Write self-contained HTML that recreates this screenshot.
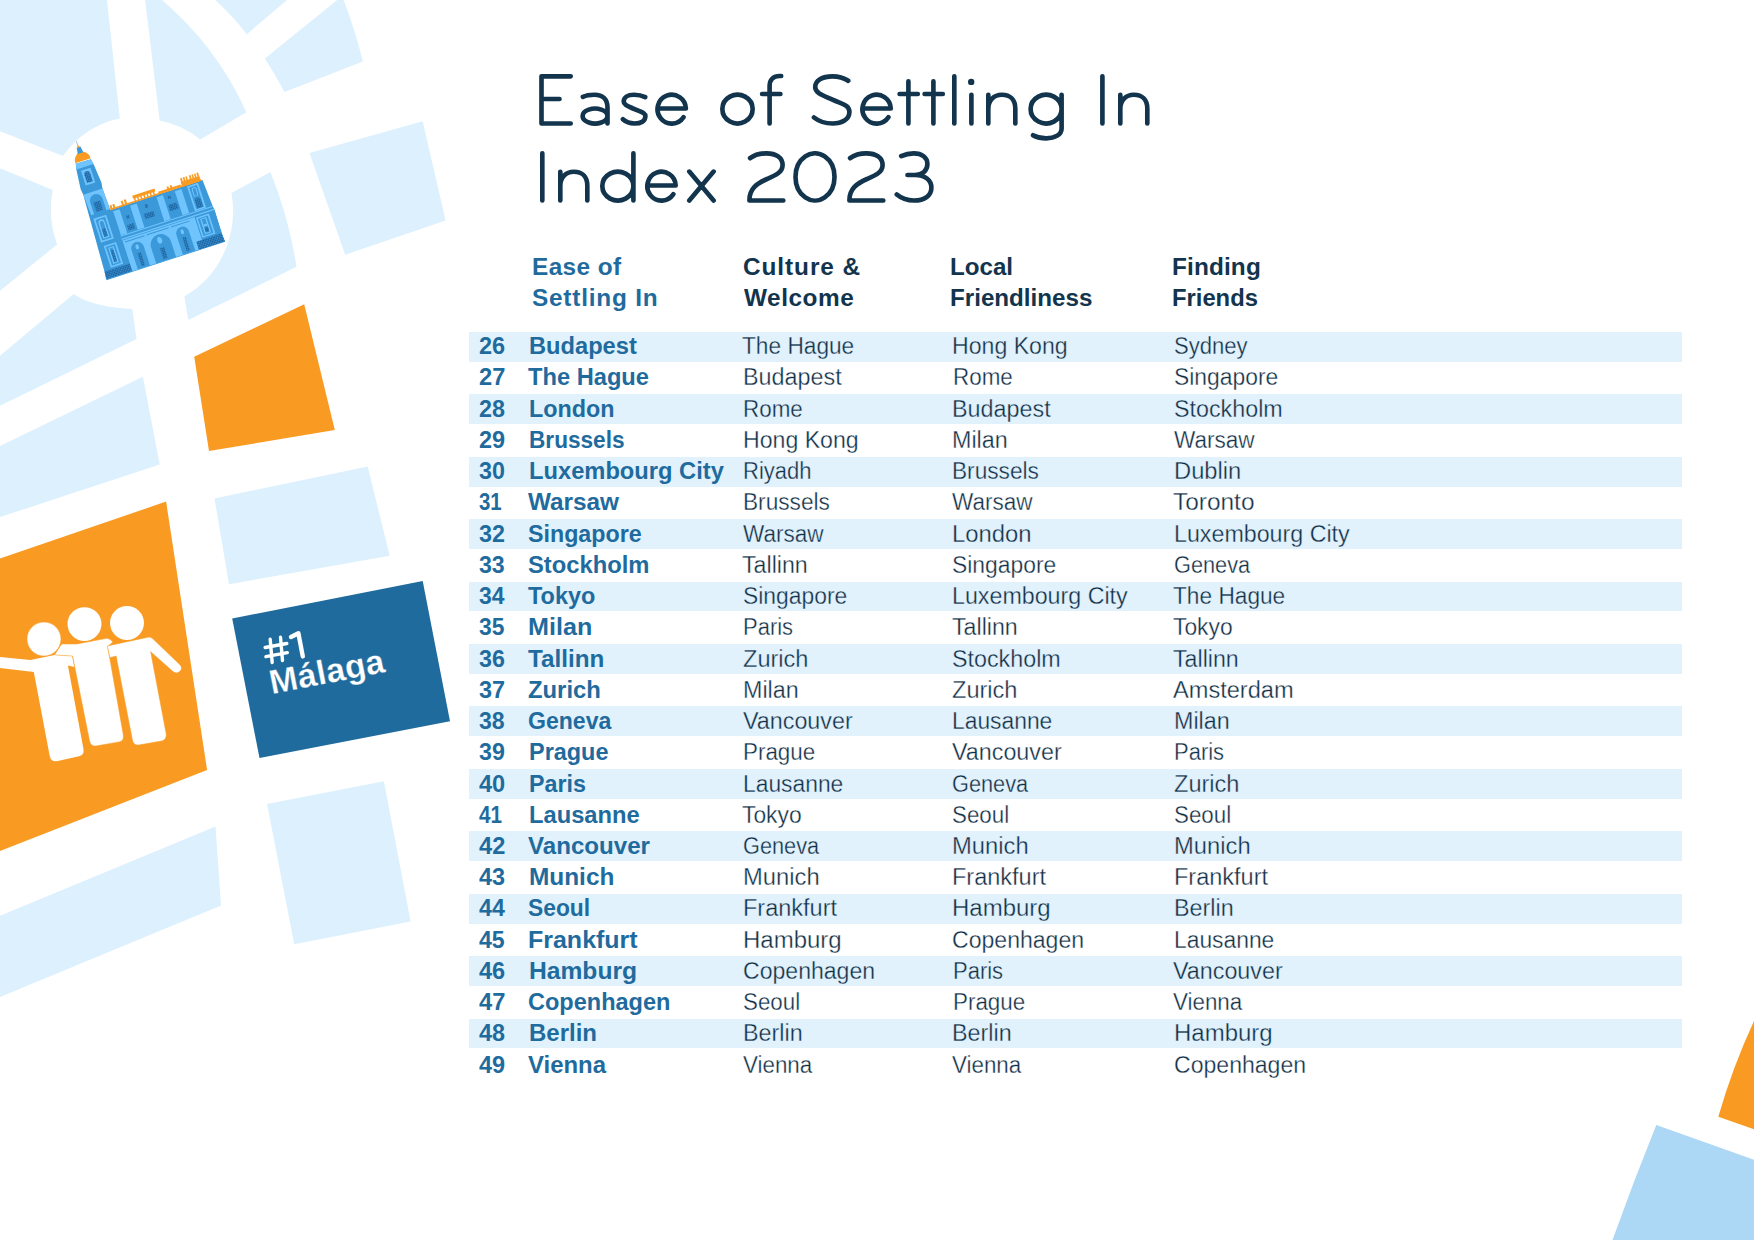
<!DOCTYPE html><html><head><meta charset="utf-8"><title>Ease of Settling In Index 2023</title><style>
*{margin:0;padding:0;box-sizing:border-box}
html,body{width:1754px;height:1240px;background:#fff;overflow:hidden}
body{position:relative;font-family:"Liberation Sans",sans-serif;color:#12344d}
#bg{position:absolute;left:0;top:0;width:1754px;height:1240px}
.row{position:absolute;left:469px;width:1213px;height:29.9px}
.row.s{background:#e1f2fd} .row.t{background:none}
.c{position:absolute;top:0;left:0;white-space:nowrap;font-size:23.5px;line-height:29.9px;transform-origin:0 50%}
.n,.a{font-weight:700;color:#1f6b9e}
.l{color:#0f2e46;-webkit-text-stroke:.33px #fff}
.s .l{-webkit-text-stroke-color:#e1f2fd}
.h{position:absolute;top:251.5px;font-size:23px;line-height:31px;font-weight:700;white-space:nowrap;color:#12344d}
.h1{color:#1f6b9e}
</style></head><body>
<svg id="bg" width="1754" height="1240" viewBox="0 0 1754 1240">
<path fill="#dcf0fd" d="M0,0 L107,0 L119.8,118.6 A91 96 0 0 0 63,156 L0,131.3 Z M145.1,0 L159.7,120.5 A91 96 0 0 1 200.2,139.5 L246.4,112.2 Q216.8,46.6 161.9,0 Z M215.2,0 L287.1,0 L246.8,34.2 Q232,15 215.2,0 Z M337.2,0 L343.7,0 Q355,30 362.9,61.4 L284.5,92.1 Q275,74 264.9,58.4 Z M422.7,121.3 L445.6,220.4 L345.2,254.8 L309.5,153.1 Z M231.4,193 L270.4,172.1 Q289,218 296.5,266.8 L188.2,320 L184.4,296.3 A91 96 0 0 0 231.4,193 Z M0,168.3 L52.7,190 A91 96 0 0 0 57.2,244.4 L0,290.7 Z M0,355.8 L73.7,294 Q92,307 132.3,309 L136.5,339 L0,405.8 Z M142.9,376.8 L159.7,464.5 L0,517.1 L0,446.1 Z M367.7,466.5 L389.7,555.8 L229,584.2 L214.5,498.4 Z M215.5,826.5 L221,905.5 L0,997 L0,915.8 Z M383.9,781.3 L410.6,921.6 L294.2,944.2 L267.1,803.9 Z"/>
<path fill="#f99b22" d="M304.2,304.2 L334.8,430 L209,451 L194.2,356.8 Z M0,558.4 L166.1,501.6 L207.1,770 L0,851 Z M1754,1021 Q1732.6,1067 1718.3,1116.8 L1754,1129.2 Z"/>
<path fill="#1f6b9d" d="M232.2,618.4 L422.7,581.1 L450,721.3 L259.5,758.1 Z"/>
<path fill="#acd7f5" d="M1656.3,1124.9 L1754,1159.7 L1754,1240 L1612.5,1240 Q1633,1182.5 1656.3,1124.9 Z"/>
<g transform="translate(0,590) scale(0.145138)" fill="#fff">
<circle cx="582" cy="235" r="117"/><circle cx="875" cy="227" r="117"/>
<path d="M0,462 L210,483 L375,447 L497,453 L512,530 L468,520 L575,1095 Q582,1135 545,1145 L390,1180 Q352,1185 343,1145 L233,565 L0,538 Z"/>
<path stroke="#f99b22" stroke-width="3.5" d="M425,372 L530,372 L735,333 Q760,335 778,358 L742,390 L850,1000 Q855,1040 820,1047 L660,1075 Q625,1078 617,1040 L500,455 L375,447 Z"/>
<path stroke="#f99b22" stroke-width="3.5" d="M740,385 L1020,325 Q1040,322 1055,338 L1240,515 Q1262,540 1238,562 Q1215,582 1190,560 L1038,425 L1145,990 Q1150,1030 1115,1040 L955,1068 Q920,1072 912,1032 L800,455 L757,466 Z"/>
<circle cx="303" cy="338" r="117" stroke="#f99b22" stroke-width="3.5"/>
</g>
<g transform="translate(271.8,694.3) rotate(-11.1)" fill="#fff" stroke="#1f6b9d" stroke-width="0.3" font-family="Liberation Sans, sans-serif" font-weight="700" font-size="34" letter-spacing="0.25">
<text x="0" y="0">Málaga</text></g>
<g fill="none" stroke="#fff" stroke-linecap="round" stroke-linejoin="round"><path stroke-width="3.4" d="M270.2,639.3 L272.2,662.5 M280.5,637.3 L282.5,660.5 M265.1,647.5 L286.8,643.5 M265.9,656.7 L287.3,652.7"/><path stroke-width="4.4" d="M291,637 L298.4,633.3 L302.8,656.4"/></g>
<defs><pattern id="dz" width="1.5" height="1.5" patternUnits="userSpaceOnUse"><rect width="1.5" height="1.5" fill="#3b98d9"/><rect width=".75" height=".75" fill="#17548f"/><rect x=".75" y=".75" width=".75" height=".75" fill="#17548f"/></pattern></defs>
<g transform="translate(106.45,280.3) rotate(-18)">
<path fill="#3b98d9" d="M0,0 L0.8,-8.6 L4.4,-88.8 L3.6,-94.3 L5.7,-115.5 L6.8,-120.3 L22.6,-120 L23.7,-113.7 L25.4,-94.2 L24.6,-88.8 L25.4,-65.7 L122.3,-65.7 L123.9,-38 L124.6,-33.4 L123.8,-9.3 L124.8,0 Z"/>
<path fill="#f99b22" d="M6.6,-121 A8.1 9 0 0 1 22.8,-121 Z"/>
<path fill="#3b98d9" d="M11.8,-129 L12.6,-135.2 L16.6,-135.2 L17.6,-129 Z"/>
<path fill="#f99b22" d="M13,-135 L14.4,-138 L15.8,-135 Z"/>
<path stroke="#3b98d9" stroke-width="0.5" d="M14.4,-137.5 L14.4,-141.6"/>
<path fill="#70c4fd" d="M5.8,-114.6 L6.8,-120.3 L22.6,-120 L23.6,-114.6 Z"/>
<rect x="9.6" y="-112" width="10.0" height="15.5" fill="#70c4fd" />
<path fill="url(#dz)" d="M11.6,-98.5 L11.6,-107.0 A3.000000000000001 3.000000000000001 0 0 1 17.6,-107.0 L17.6,-98.5 Z"/>
<path fill="#70c4fd" d="M4.5,-88.6 L24.5,-88.6 L25.2,-66.5 L5.6,-66.5 Z"/>
<path fill="#3b98d9" d="M8.6,-66 L8.6,-79.0 A6.500000000000001 6.500000000000001 0 0 1 21.6,-79.0 L21.6,-66 Z"/>
<rect x="11.5" y="-78" width="7.0" height="10" fill="url(#dz)" />
<rect x="6.5" y="-62.5" width="13.5" height="25.0" fill="#70c4fd" />
<rect x="8.3" y="-60.8" width="9.9" height="21.6" fill="#3b98d9" />
<path fill="#70c4fd" d="M10,-40.5 L10,-56.25 A3.25 3.25 0 0 1 16.5,-56.25 L16.5,-40.5 Z"/>
<path fill="#3b98d9" d="M11.3,-41.5 L11.3,-56.05 A1.9499999999999993 1.9499999999999993 0 0 1 15.2,-56.05 L15.2,-41.5 Z"/>
<rect x="11.5" y="-50" width="3.5" height="8" fill="url(#dz)" />
<rect x="8" y="-33.5" width="13" height="23.0" fill="#70c4fd" />
<rect x="9.8" y="-31.8" width="9.4" height="19.6" fill="#3b98d9" />
<rect x="11.6" y="-30.5" width="5.8" height="17.0" fill="#70c4fd" />
<rect x="12.9" y="-29.5" width="3.2" height="15.0" fill="#3b98d9" />
<rect x="13" y="-27" width="3" height="12" fill="url(#dz)" />
<rect x="22" y="-64" width="3.6" height="55" fill="#3b98d9" />
<path fill="url(#dz)" d="M0.9,-8.8 L27.5,-8.8 L27.5,-1.2 L0.2,-1.2 Z"/>
<rect x="27.7" y="-63.6" width="6.7" height="25.2" fill="#70c4fd" />
<rect x="45.5" y="-63.6" width="7.0" height="25.2" fill="#70c4fd" />
<rect x="73.3" y="-63.6" width="6.7" height="25.2" fill="#70c4fd" />
<rect x="92.5" y="-63.6" width="7.0" height="25.2" fill="#70c4fd" />
<rect x="36.5" y="-46" width="7.0" height="5.5" fill="url(#dz)" />
<rect x="38.5" y="-55.5" width="3.0" height="3.5" fill="url(#dz)" />
<rect x="56" y="-51.5" width="10" height="5.5" fill="url(#dz)" />
<rect x="59.5" y="-60" width="3.0" height="3.5" fill="url(#dz)" />
<rect x="82" y="-52.5" width="9" height="6.5" fill="url(#dz)" />
<rect x="84" y="-61" width="3" height="3" fill="url(#dz)" />
<rect x="105.6" y="-64.4" width="11.6" height="26.0" fill="#70c4fd" />
<rect x="107.4" y="-62.8" width="8.0" height="22.8" fill="#3b98d9" />
<path fill="#70c4fd" d="M109,-52.5 L109,-59.1 A2.5 2.5 0 0 1 114,-59.1 L114,-52.5 Z"/>
<path fill="#3b98d9" d="M110,-53 L110,-59.1 A1.5 1.5 0 0 1 113,-59.1 L113,-53 Z"/>
<path fill="url(#dz)" d="M108.6,-40 L108.6,-47.5 A3.0 3.0 0 0 1 114.6,-47.5 L114.6,-40 Z"/>
<rect x="27" y="-38.1" width="97.2" height="1.2" fill="#70c4fd" />
<rect x="27" y="-34.8" width="97.4" height="1.2" fill="#70c4fd" />
<rect x="27.5" y="-33" width="76.0" height="32.4" fill="#70c4fd" />
<rect x="29.5" y="-31.2" width="20.5" height="1.0" fill="#3b98d9" />
<rect x="52" y="-31.2" width="23.5" height="1.0" fill="#3b98d9" />
<rect x="78" y="-31.2" width="19" height="1.0" fill="#3b98d9" />
<path fill="#3b98d9" d="M33.2,-0.6 L33.2,-21.0 A6.399999999999999 6.399999999999999 0 0 1 46,-21.0 L46,-0.6 Z"/>
<path fill="#3b98d9" d="M52.6,-0.6 L52.6,-17.2 A10.400000000000002 10.400000000000002 0 0 1 73.4,-17.2 L73.4,-0.6 Z"/>
<path fill="#3b98d9" d="M80.6,-0.6 L80.6,-21.3 A6.5 6.5 0 0 1 93.6,-21.3 L93.6,-0.6 Z"/>
<ellipse cx="39.6" cy="-22.3" rx="1.7" ry="2.6" fill="#70c4fd"/><ellipse cx="63" cy="-21.6" rx="2.4" ry="3.4" fill="#70c4fd"/><ellipse cx="87.1" cy="-22.8" rx="1.6" ry="2.6" fill="#70c4fd"/>
<rect x="37.8" y="-16" width="3.6" height="13.5" fill="url(#dz)" />
<rect x="60.8" y="-14" width="4.4" height="11.5" fill="url(#dz)" />
<rect x="85.3" y="-17" width="3.6" height="14.5" fill="url(#dz)" />
<rect x="75.2" y="-29" width="3.4" height="28.4" fill="#3b98d9" opacity=".0"/>
<rect x="103.5" y="-33" width="20.9" height="32.4" fill="#3b98d9" />
<rect x="104.4" y="-31.8" width="13.6" height="21.0" fill="#70c4fd" />
<rect x="106" y="-30.4" width="10.4" height="18.2" fill="#3b98d9" />
<rect x="108" y="-29.4" width="6.4" height="16.0" fill="#70c4fd" />
<rect x="109.3" y="-28.6" width="3.8" height="14.2" fill="#3b98d9" />
<rect x="109.4" y="-19.5" width="3.6" height="4.5" fill="url(#dz)" />
<rect x="109.4" y="-23" width="3.6" height="2" fill="#70c4fd" />
<path fill="url(#dz)" d="M97.4,-8.9 L123.8,-9.3 L124.7,-0.6 L97.4,-0.6 Z"/>
<rect x="25.6" y="-66.9" width="95.4" height="1.5" fill="#f99b22" />
<rect x="26" y="-70.3" width="2" height="4.9" fill="#f99b22" />
<rect x="29" y="-70.3" width="2" height="4.9" fill="#f99b22" />
<rect x="38" y="-70.8" width="2" height="5.4" fill="#f99b22" />
<rect x="41.2" y="-71.2" width="2.2" height="5.8" fill="#f99b22" />
<rect x="86" y="-70.4" width="2" height="5.0" fill="#f99b22" />
<rect x="89.4" y="-70.6" width="2.0" height="5.2" fill="#f99b22" />
<rect x="50.6" y="-72.4" width="23.4" height="3.0" fill="#f99b22" />
<rect x="51.4" y="-70" width="1.5" height="4" fill="#f99b22" />
<rect x="54.699999999999996" y="-70" width="1.5" height="4" fill="#f99b22" />
<rect x="58.0" y="-70" width="1.5" height="4" fill="#f99b22" />
<rect x="61.3" y="-70" width="1.5" height="4" fill="#f99b22" />
<rect x="64.6" y="-70" width="1.5" height="4" fill="#f99b22" />
<rect x="67.9" y="-70" width="1.5" height="4" fill="#f99b22" />
<rect x="71.19999999999999" y="-70" width="1.5" height="4" fill="#f99b22" />
<rect x="76.5" y="-68.3" width="23.5" height="1.8" fill="#f99b22" />
<rect x="101" y="-70.6" width="19.6" height="5.2" fill="#f99b22" />
<rect x="101.4" y="-74.2" width="1.8" height="4.2" fill="#f99b22" />
<rect x="104.2" y="-74.2" width="1.8" height="4.2" fill="#f99b22" />
<rect x="107" y="-74.2" width="1.6" height="4.2" fill="#f99b22" />
<rect x="110.6" y="-74.2" width="1.8" height="4.2" fill="#f99b22" />
<rect x="113.4" y="-74.2" width="1.6" height="4.2" fill="#f99b22" />
<rect x="116" y="-74.2" width="1.6" height="4.2" fill="#f99b22" />
<rect x="118.6" y="-74.2" width="1.8" height="4.2" fill="#f99b22" />
</g>
<g fill="none" stroke="#12344d" stroke-width="4.65" stroke-linecap="round" stroke-linejoin="round"><path transform="translate(0,123.5)" d="M570.7,-47.2 L541.5,-47.2 L541.5,0 L570.7,0 M541.5,-24.5 L559.5,-24.5 M582.9,-26.6 C586,-28.2 590,-28.8 594.5,-28.8 C603,-28.8 607.5,-24 607.5,-16 L607.5,0 M607.5,-7.45 A12.45 7.45 0 1 0 607.5,-7.44 M645.2,-26.4 C642.0,-28 638.0,-28.8 634.0,-28.8 C627.5,-28.8 623.7,-26 623.7,-22 C623.7,-18.3 628.6,-17.2 634.5,-14.4 C640.4,-11.6 645.4,-11 645.4,-7.2 C645.4,-2.5 641.0,0 634.5,0 C629.5,0 625.5,-1.8 622.9,-4.2 M657.5,-15 L685.9000000000001,-15 A14.2 14.4 0 1 0 683.5,-6.3 M752.65,-14.4 A15.15 14.4 0 1 0 752.65,-14.39 M769.6,0 L769.6,-37.5 C769.6,-44 773.5,-47.5 779.5,-47.5 L781.2,-47.5 M762.1,-29.5 L780.4,-29.5 M848.2,-42.7 C844,-45.5 838.5,-47.2 832.5,-47.2 C822,-47.2 815.2,-43 815.2,-36.5 C815.2,-30 823.5,-28 833,-23.6 C842.5,-19.2 849.4,-18.5 849.4,-11.5 C849.4,-4 842,0 832.5,0 C825,0 818.5,-2.5 814,-6 M862.4,-15 L890.8000000000001,-15 A14.2 14.4 0 1 0 888.4,-6.3 M908.4,-42.3 L908.4,0 M899.6,-29.5 L917.8,-29.5 M933.4,-42.3 L933.4,0 M924.6,-29.5 L942.8,-29.5 M954.3,-47.2 L954.3,0 M971.4,-28.8 L971.4,0 M988.3,-28.8 L988.3,0 M988.3,-15 C988.3,-23 993.8,-28.8 1001.8,-28.8 C1010.3,-28.8 1015.3,-23.5 1015.3,-15 L1015.3,0 M1061.6,-14.4 A15.5 14.4 0 1 0 1061.6,-14.39 M1061.6,-28.8 L1061.6,4.9 C1061.6,11 1055.1,14.8 1046.1,14.8 C1041.1,14.8 1036.5,13.5 1033.1,11.8 M1102.4,-47.2 L1102.4,0 M1120.3,-28.8 L1120.3,0 M1120.3,-15 C1120.3,-23 1125.8,-28.8 1133.8,-28.8 C1142.3,-28.8 1147.3,-23.5 1147.3,-15 L1147.3,0"/><path transform="translate(0,200.5)" d="M542.3,-47.2 L542.3,0 M560.3,-28.8 L560.3,0 M560.3,-15 C560.3,-23 565.8,-28.8 573.8,-28.8 C582.3,-28.8 587.3,-23.5 587.3,-15 L587.3,0 M633.4,-14.4 A15.55 14.4 0 1 0 633.4,-14.39 M633.4,-47.2 L633.4,0 M647.3,-15 L675.7,-15 A14.2 14.4 0 1 0 673.3,-6.3 M689.3,-28.9 L713.5999999999999,0 M713.5999999999999,-28.9 L689.3,0 M750.1,-42.3 C754,-45.3 760,-47.2 766.4,-47.2 C776,-47.2 782.6,-43 782.6,-35.5 C782.6,-28 775,-25 767,-21.5 C757,-17 749.4,-12 749.4,0 L783.3,0 M834.5,-23.6 A19.5 23.6 0 1 0 834.5,-23.59 M850.1,-42.3 C854,-45.3 860,-47.2 866.4,-47.2 C876,-47.2 882.6,-43 882.6,-35.5 C882.6,-28 875,-25 867,-21.5 C857,-17 849.4,-12 849.4,0 L883.3,0 M901.2,-44.4 C905,-46.2 909,-47.2 913.7,-47.2 C922,-47.2 927.4,-43 927.4,-36.5 C927.4,-30 922.5,-25.5 915,-25.5 L907.5,-25.5 M915,-25.5 C925,-25.5 931.4,-20.5 931.4,-12.8 C931.4,-5 924.5,0 914,0 C907,0 901,-2.5 896.8,-6"/></g><circle cx="971.2" cy="81.9" r="3.2" fill="#12344d"/>
</svg>
<div class="h h1" style="left:531.6px"><div style="margin-left:0px;letter-spacing:0.37px;transform:scaleX(1.060);transform-origin:0 50%">Ease of</div><div style="margin-left:0px;letter-spacing:0.73px;transform:scaleX(1.060);transform-origin:0 50%">Settling In</div></div>
<div class="h h2" style="left:742.4px"><div style="margin-left:0.8px;letter-spacing:0.87px;transform:scaleX(1.060);transform-origin:0 50%">Culture &amp;</div><div style="margin-left:1.7px;letter-spacing:0.50px;transform:scaleX(1.060);transform-origin:0 50%">Welcome</div></div>
<div class="h h3" style="left:949.8px"><div style="margin-left:0px;letter-spacing:0.00px;transform:scaleX(1.050);transform-origin:0 50%">Local</div><div style="margin-left:0px;letter-spacing:0.00px;transform:scaleX(1.051);transform-origin:0 50%">Friendliness</div></div>
<div class="h h4" style="left:1172.1px"><div style="margin-left:0px;letter-spacing:0.12px;transform:scaleX(1.060);transform-origin:0 50%">Finding</div><div style="margin-left:0px;letter-spacing:-0.00px;transform:scaleX(1.034);transform-origin:0 50%">Friends</div></div>
<div class="row s" style="top:331.80px"></div>
<div class="row s" style="top:394.23px"></div>
<div class="row s" style="top:456.66px"></div>
<div class="row s" style="top:519.10px"></div>
<div class="row s" style="top:581.53px"></div>
<div class="row s" style="top:643.96px"></div>
<div class="row s" style="top:706.39px"></div>
<div class="row s" style="top:768.82px"></div>
<div class="row s" style="top:831.26px"></div>
<div class="row s" style="top:893.69px"></div>
<div class="row s" style="top:956.12px"></div>
<div class="row s" style="top:1018.55px"></div>
<div class="row t s" style="top:331.8px"><span class="c n" style="left:9.93px;transform:translateY(0.4px) scaleX(1.0006)">26</span><span class="c a" style="left:59.58px;transform:translateY(0.4px) scaleX(1.0066)">Budapest</span><span class="c l" style="left:273.47px;transform:translateY(0.4px) scaleX(0.9653)">The Hague</span><span class="c l" style="left:483.45px;transform:translateY(0.4px) scaleX(0.9834)">Hong Kong</span><span class="c l" style="left:704.60px;transform:translateY(0.4px) scaleX(0.9379)">Sydney</span></div>
<div class="row t" style="top:362.8px"><span class="c n" style="left:9.92px;transform:translateY(0.4px) scaleX(1.0082)">27</span><span class="c a" style="left:59.29px;transform:translateY(0.4px) scaleX(1.0070)">The Hague</span><span class="c l" style="left:274.30px;transform:translateY(0.4px) scaleX(0.9933)">Budapest</span><span class="c l" style="left:483.51px;transform:translateY(0.4px) scaleX(0.9535)">Rome</span><span class="c l" style="left:704.56px;transform:translateY(0.4px) scaleX(0.9726)">Singapore</span></div>
<div class="row t s" style="top:394.8px"><span class="c n" style="left:9.93px;transform:translateY(0.4px) scaleX(0.9927)">28</span><span class="c a" style="left:59.60px;transform:translateY(0.4px) scaleX(0.9937)">London</span><span class="c l" style="left:274.38px;transform:translateY(0.4px) scaleX(0.9535)">Rome</span><span class="c l" style="left:483.43px;transform:translateY(0.4px) scaleX(0.9933)">Budapest</span><span class="c l" style="left:704.54px;transform:translateY(0.4px) scaleX(0.9909)">Stockholm</span></div>
<div class="row t" style="top:425.8px"><span class="c n" style="left:9.93px;transform:translateY(0.4px) scaleX(0.9988)">29</span><span class="c a" style="left:59.65px;transform:translateY(0.4px) scaleX(0.9623)">Brussels</span><span class="c l" style="left:274.32px;transform:translateY(0.4px) scaleX(0.9834)">Hong Kong</span><span class="c l" style="left:483.44px;transform:translateY(0.4px) scaleX(0.9911)">Milan</span><span class="c l" style="left:704.82px;transform:translateY(0.4px) scaleX(0.9593)">Warsaw</span></div>
<div class="row t s" style="top:456.8px"><span class="c n" style="left:10.21px;transform:translateY(0.4px) scaleX(0.9905)">30</span><span class="c a" style="left:59.57px;transform:translateY(0.4px) scaleX(1.0084)">Luxembourg City</span><span class="c l" style="left:274.41px;transform:translateY(0.4px) scaleX(0.9358)">Riyadh</span><span class="c l" style="left:483.49px;transform:translateY(0.4px) scaleX(0.9646)">Brussels</span><span class="c l" style="left:704.74px;transform:translateY(0.4px) scaleX(1.0101)">Dublin</span></div>
<div class="row t" style="top:487.8px"><span class="c n" style="left:10.27px;transform:translateY(0.4px) scaleX(0.8663)">31</span><span class="c a" style="left:59.07px;transform:translateY(0.4px) scaleX(1.0347)">Warsaw</span><span class="c l" style="left:274.36px;transform:translateY(0.4px) scaleX(0.9646)">Brussels</span><span class="c l" style="left:483.48px;transform:translateY(0.4px) scaleX(0.9593)">Warsaw</span><span class="c l" style="left:703.90px;transform:translateY(0.4px) scaleX(1.0396)">Toronto</span></div>
<div class="row t s" style="top:519.8px"><span class="c n" style="left:10.20px;transform:translateY(0.4px) scaleX(0.9932)">32</span><span class="c a" style="left:59.48px;transform:translateY(0.4px) scaleX(0.9888)">Singapore</span><span class="c l" style="left:274.35px;transform:translateY(0.4px) scaleX(0.9593)">Warsaw</span><span class="c l" style="left:483.39px;transform:translateY(0.4px) scaleX(1.0143)">London</span><span class="c l" style="left:704.78px;transform:translateY(0.4px) scaleX(0.9891)">Luxembourg City</span></div>
<div class="row t" style="top:550.8px"><span class="c n" style="left:10.21px;transform:translateY(0.4px) scaleX(0.9832)">33</span><span class="c a" style="left:59.46px;transform:translateY(0.4px) scaleX(1.0113)">Stockholm</span><span class="c l" style="left:273.46px;transform:translateY(0.4px) scaleX(0.9863)">Tallinn</span><span class="c l" style="left:483.22px;transform:translateY(0.4px) scaleX(0.9726)">Singapore</span><span class="c l" style="left:704.71px;transform:translateY(0.4px) scaleX(0.9251)">Geneva</span></div>
<div class="row t s" style="top:581.8px"><span class="c n" style="left:10.21px;transform:translateY(0.4px) scaleX(0.9758)">34</span><span class="c a" style="left:59.29px;transform:translateY(0.4px) scaleX(0.9978)">Tokyo</span><span class="c l" style="left:274.09px;transform:translateY(0.4px) scaleX(0.9726)">Singapore</span><span class="c l" style="left:483.44px;transform:translateY(0.4px) scaleX(0.9891)">Luxembourg City</span><span class="c l" style="left:703.94px;transform:translateY(0.4px) scaleX(0.9653)">The Hague</span></div>
<div class="row t" style="top:612.8px"><span class="c n" style="left:10.22px;transform:translateY(0.4px) scaleX(0.9697)">35</span><span class="c a" style="left:59.48px;transform:translateY(0.4px) scaleX(1.0699)">Milan</span><span class="c l" style="left:274.41px;transform:translateY(0.4px) scaleX(0.9359)">Paris</span><span class="c l" style="left:482.59px;transform:translateY(0.4px) scaleX(0.9863)">Tallinn</span><span class="c l" style="left:703.94px;transform:translateY(0.4px) scaleX(0.9714)">Tokyo</span></div>
<div class="row t s" style="top:644.8px"><span class="c n" style="left:10.21px;transform:translateY(0.4px) scaleX(0.9895)">36</span><span class="c a" style="left:59.28px;transform:translateY(0.4px) scaleX(1.0320)">Tallinn</span><span class="c l" style="left:274.05px;transform:translateY(0.4px) scaleX(1.0029)">Zurich</span><span class="c l" style="left:483.20px;transform:translateY(0.4px) scaleX(0.9909)">Stockholm</span><span class="c l" style="left:703.93px;transform:translateY(0.4px) scaleX(0.9863)">Tallinn</span></div>
<div class="row t" style="top:675.8px"><span class="c n" style="left:10.20px;transform:translateY(0.4px) scaleX(0.9969)">37</span><span class="c a" style="left:58.93px;transform:translateY(0.4px) scaleX(1.0144)">Zurich</span><span class="c l" style="left:274.31px;transform:translateY(0.4px) scaleX(0.9911)">Milan</span><span class="c l" style="left:483.18px;transform:translateY(0.4px) scaleX(1.0029)">Zurich</span><span class="c l" style="left:704.29px;transform:translateY(0.4px) scaleX(1.0037)">Amsterdam</span></div>
<div class="row t s" style="top:706.8px"><span class="c n" style="left:10.21px;transform:translateY(0.4px) scaleX(0.9818)">38</span><span class="c a" style="left:59.48px;transform:translateY(0.4px) scaleX(0.9811)">Geneva</span><span class="c l" style="left:273.77px;transform:translateY(0.4px) scaleX(0.9919)">Vancouver</span><span class="c l" style="left:483.47px;transform:translateY(0.4px) scaleX(0.9718)">Lausanne</span><span class="c l" style="left:704.78px;transform:translateY(0.4px) scaleX(0.9911)">Milan</span></div>
<div class="row t" style="top:737.8px"><span class="c n" style="left:10.21px;transform:translateY(0.4px) scaleX(0.9877)">39</span><span class="c a" style="left:59.59px;transform:translateY(0.4px) scaleX(0.9970)">Prague</span><span class="c l" style="left:274.38px;transform:translateY(0.4px) scaleX(0.9522)">Prague</span><span class="c l" style="left:482.90px;transform:translateY(0.4px) scaleX(0.9919)">Vancouver</span><span class="c l" style="left:704.88px;transform:translateY(0.4px) scaleX(0.9359)">Paris</span></div>
<div class="row t s" style="top:769.8px"><span class="c n" style="left:9.90px;transform:translateY(0.4px) scaleX(1.0025)">40</span><span class="c a" style="left:59.60px;transform:translateY(0.4px) scaleX(0.9892)">Paris</span><span class="c l" style="left:274.34px;transform:translateY(0.4px) scaleX(0.9718)">Lausanne</span><span class="c l" style="left:483.37px;transform:translateY(0.4px) scaleX(0.9251)">Geneva</span><span class="c l" style="left:704.52px;transform:translateY(0.4px) scaleX(1.0029)">Zurich</span></div>
<div class="row t" style="top:800.8px"><span class="c n" style="left:9.95px;transform:translateY(0.4px) scaleX(0.8791)">41</span><span class="c a" style="left:59.57px;transform:translateY(0.4px) scaleX(1.0085)">Lausanne</span><span class="c l" style="left:273.47px;transform:translateY(0.4px) scaleX(0.9714)">Tokyo</span><span class="c l" style="left:483.24px;transform:translateY(0.4px) scaleX(0.9502)">Seoul</span><span class="c l" style="left:704.58px;transform:translateY(0.4px) scaleX(0.9502)">Seoul</span></div>
<div class="row t s" style="top:831.8px"><span class="c n" style="left:9.90px;transform:translateY(0.4px) scaleX(1.0051)">42</span><span class="c a" style="left:58.93px;transform:translateY(0.4px) scaleX(1.0264)">Vancouver</span><span class="c l" style="left:274.24px;transform:translateY(0.4px) scaleX(0.9251)">Geneva</span><span class="c l" style="left:483.40px;transform:translateY(0.4px) scaleX(1.0110)">Munich</span><span class="c l" style="left:704.74px;transform:translateY(0.4px) scaleX(1.0110)">Munich</span></div>
<div class="row t" style="top:862.8px"><span class="c n" style="left:9.91px;transform:translateY(0.4px) scaleX(0.9952)">43</span><span class="c a" style="left:59.53px;transform:translateY(0.4px) scaleX(1.0376)">Munich</span><span class="c l" style="left:274.27px;transform:translateY(0.4px) scaleX(1.0110)">Munich</span><span class="c l" style="left:483.42px;transform:translateY(0.4px) scaleX(1.0002)">Frankfurt</span><span class="c l" style="left:704.76px;transform:translateY(0.4px) scaleX(1.0002)">Frankfurt</span></div>
<div class="row t s" style="top:893.8px"><span class="c n" style="left:9.91px;transform:translateY(0.4px) scaleX(0.9876)">44</span><span class="c a" style="left:59.49px;transform:translateY(0.4px) scaleX(0.9711)">Seoul</span><span class="c l" style="left:274.29px;transform:translateY(0.4px) scaleX(1.0002)">Frankfurt</span><span class="c l" style="left:483.38px;transform:translateY(0.4px) scaleX(1.0205)">Hamburg</span><span class="c l" style="left:704.77px;transform:translateY(0.4px) scaleX(0.9931)">Berlin</span></div>
<div class="row t" style="top:925.8px"><span class="c n" style="left:9.91px;transform:translateY(0.4px) scaleX(0.9817)">45</span><span class="c a" style="left:59.49px;transform:translateY(0.4px) scaleX(1.0629)">Frankfurt</span><span class="c l" style="left:274.25px;transform:translateY(0.4px) scaleX(1.0205)">Hamburg</span><span class="c l" style="left:483.29px;transform:translateY(0.4px) scaleX(0.9814)">Copenhagen</span><span class="c l" style="left:704.81px;transform:translateY(0.4px) scaleX(0.9718)">Lausanne</span></div>
<div class="row t s" style="top:956.8px"><span class="c n" style="left:9.90px;transform:translateY(0.4px) scaleX(1.0014)">46</span><span class="c a" style="left:59.51px;transform:translateY(0.4px) scaleX(1.0476)">Hamburg</span><span class="c l" style="left:274.16px;transform:translateY(0.4px) scaleX(0.9814)">Copenhagen</span><span class="c l" style="left:483.54px;transform:translateY(0.4px) scaleX(0.9359)">Paris</span><span class="c l" style="left:704.24px;transform:translateY(0.4px) scaleX(0.9919)">Vancouver</span></div>
<div class="row t" style="top:987.8px"><span class="c n" style="left:9.90px;transform:translateY(0.4px) scaleX(1.0089)">47</span><span class="c a" style="left:59.46px;transform:translateY(0.4px) scaleX(1.0007)">Copenhagen</span><span class="c l" style="left:274.11px;transform:translateY(0.4px) scaleX(0.9502)">Seoul</span><span class="c l" style="left:483.51px;transform:translateY(0.4px) scaleX(0.9522)">Prague</span><span class="c l" style="left:704.24px;transform:translateY(0.4px) scaleX(0.9516)">Vienna</span></div>
<div class="row t s" style="top:1018.8px"><span class="c n" style="left:9.91px;transform:translateY(0.4px) scaleX(0.9937)">48</span><span class="c a" style="left:59.55px;transform:translateY(0.4px) scaleX(1.0214)">Berlin</span><span class="c l" style="left:274.30px;transform:translateY(0.4px) scaleX(0.9931)">Berlin</span><span class="c l" style="left:483.43px;transform:translateY(0.4px) scaleX(0.9931)">Berlin</span><span class="c l" style="left:704.72px;transform:translateY(0.4px) scaleX(1.0205)">Hamburg</span></div>
<div class="row t" style="top:1050.8px"><span class="c n" style="left:9.90px;transform:translateY(0.4px) scaleX(0.9997)">49</span><span class="c a" style="left:58.93px;transform:translateY(0.4px) scaleX(1.0187)">Vienna</span><span class="c l" style="left:273.77px;transform:translateY(0.4px) scaleX(0.9516)">Vienna</span><span class="c l" style="left:482.90px;transform:translateY(0.4px) scaleX(0.9516)">Vienna</span><span class="c l" style="left:704.63px;transform:translateY(0.4px) scaleX(0.9814)">Copenhagen</span></div>
</body></html>
